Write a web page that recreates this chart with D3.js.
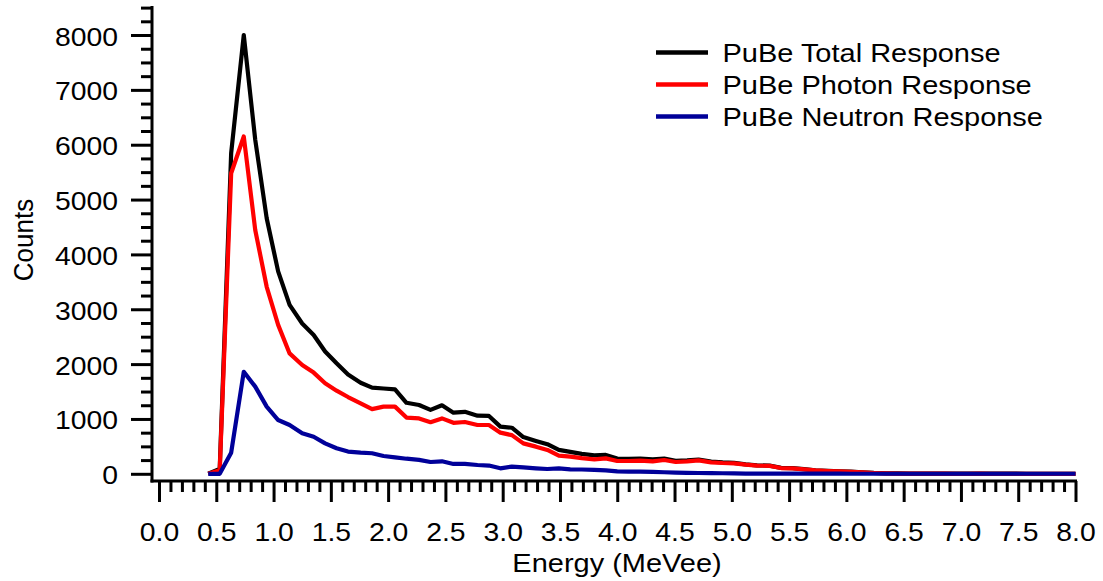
<!DOCTYPE html>
<html>
<head>
<meta charset="utf-8">
<script src="https://cdn.jsdelivr.net/npm/d3@7"></script>
<style>
  html, body { margin: 0; padding: 0; background: #ffffff; }
  svg { display: block; font-family: "Liberation Sans", Arial, Helvetica, sans-serif; }
</style>
</head>
<body>
<script>
// Bin centres of the pulse-height spectrum (MeVee)
const energy = [0.43,0.53,0.63,0.74,0.84,0.94,1.04,1.14,1.25,1.35,1.45,1.55,1.65,1.76,1.86,1.96,
  2.06,2.16,2.27,2.37,2.47,2.57,2.67,2.78,2.88,2.98,3.08,3.18,3.29,3.39,3.49,3.59,3.69,3.80,3.90,
  4.00,4.10,4.20,4.31,4.41,4.51,4.61,4.71,4.82,4.92,5.02,5.12,5.22,5.33,5.43,5.53,5.63,5.73,5.84,
  5.94,6.04,6.14,6.24,6.35,6.45,6.55,6.65,6.75,6.86,6.96,7.06,7.16,7.26,7.37,7.47,7.57,7.67,7.77,
  7.88,7.98,8.08];

// Counts per bin
const totalCounts = [0,90,5850,8000,6090,4660,3690,3080,2740,2530,2230,2015,1810,1660,1570,1555,
  1540,1295,1255,1165,1250,1115,1130,1060,1055,860,840,670,600,540,435,400,363,335,345,
  278,273,279,262,279,237,245,260,221,207,199,171,153,150,109,102,84,65,53,
  45,38,27,16,9,6,4,4,3,3,2,2,3,2,2,2,1,1,1,
  1,1,1];
const photonCounts = [0,65,5480,6150,4445,3410,2715,2195,1985,1845,1650,1515,1400,1285,1180,1225,
  1225,1025,1010,940,1010,930,945,890,890,750,705,555,495,435,330,312,285,264,282,
  233,233,239,227,251,215,227,245,209,197,191,166,148,145,105,99,81,63,51,
  43,36,25,15,8,5,3,3,2,2,1,1,2,1,1,1,0,0,0,
  0,0,0];
const neutronCounts = [0,0,385,1860,1590,1225,980,890,740,675,555,465,405,385,375,325,
  300,275,255,215,228,180,180,160,150,100,130,118,100,88,100,82,78,70,62,
  45,40,40,35,28,22,18,15,12,10,8,5,5,5,4,3,3,2,2,
  2,1,1,1,1,1,1,1,1,1,1,1,1,1,1,1,1,1,1,
  1,1,1];

const seriesNames = ["PuBe Total Response", "PuBe Photon Response", "PuBe Neutron Response"];
const seriesColors = ["#000000", "#ff0000", "#000099"];

// Axis ticks
const xTickValues = [0,0.5,1,1.5,2,2.5,3,3.5,4,4.5,5,5.5,6,6.5,7,7.5,8];
const yTickValues = [0,1000,2000,3000,4000,5000,6000,7000,8000];
const xTitle = "Energy (MeVee)";
const yTitle = "Counts";

const W = 1103, H = 581;
const tickTextScale = "scale(1.09,1)";
const textScale = "scale(1.115,1)";
const fontSize = 26;

const svg = d3.select("body").append("svg").attr("width", W).attr("height", H);

const x = d3.scaleLinear().domain([0, 8]).range([159, 1075.5]);
const y = d3.scaleLinear().domain([0, 8500]).range([473.8, 7.6]);

const axisX = 481;   // x axis sits slightly below zero
const axisY = 152;   // y axis sits slightly left of zero

// ---- data lines ----
svg.append("defs").append("clipPath").attr("id", "plotClip")
  .append("rect").attr("x", axisY).attr("y", 0)
  .attr("width", x(8) - axisY).attr("height", axisX);

const line = d3.line().x(d => x(d[0])).y(d => y(d[1]));
const seriesValues = [totalCounts, photonCounts, neutronCounts];
const plot = svg.append("g").attr("clip-path", "url(#plotClip)");
seriesValues.forEach((vals, i) => {
  plot.append("path")
    .datum(energy.map((e, j) => [e, vals[j]]))
    .attr("d", line)
    .attr("fill", "none")
    .attr("stroke", seriesColors[i])
    .attr("stroke-width", 4.2)
    .attr("stroke-linejoin", "round");
});

// ---- axes ----
const xMinor = d3.range(0, 81).map(i => i / 10).filter(v => Math.abs(v * 2 - Math.round(v * 2)) > 1e-6);
const yMinor = d3.range(0, 35).map(i => i * 250).filter(v => v % 1000 !== 0);

function styleAxis(g) {
  g.select(".domain").remove();
  g.selectAll(".tick line").attr("stroke", "#000").attr("stroke-width", 3);
  g.attr("font-family", null).attr("font-size", fontSize);
}

const gxMinor = svg.append("g").attr("transform", `translate(0,${axisX})`)
  .call(d3.axisBottom(x).tickValues(xMinor).tickSize(11).tickFormat(""));
styleAxis(gxMinor);

const gx = svg.append("g").attr("transform", `translate(0,${axisX})`)
  .call(d3.axisBottom(x).tickValues(xTickValues).tickSize(21).tickFormat(d3.format(".1f")));
styleAxis(gx);
gx.selectAll(".tick text")
  .attr("y", null).attr("dy", null)
  .attr("fill", "#000")
  .attr("transform", `translate(0,60) ${tickTextScale}`);

const gyMinor = svg.append("g").attr("transform", `translate(${axisY},0)`)
  .call(d3.axisLeft(y).tickValues(yMinor).tickSize(11).tickFormat(""));
styleAxis(gyMinor);

const gy = svg.append("g").attr("transform", `translate(${axisY},0)`)
  .call(d3.axisLeft(y).tickValues(yTickValues).tickSize(21).tickFormat(d3.format("d")));
styleAxis(gy);
gy.selectAll(".tick text")
  .attr("x", null).attr("dy", null)
  .attr("fill", "#000")
  .attr("transform", `translate(-34,10) ${tickTextScale}`);

// axis lines
svg.append("line")
  .attr("x1", axisY).attr("x2", axisY)
  .attr("y1", y(8500)).attr("y2", axisX)
  .attr("stroke", "#000").attr("stroke-width", 3).attr("stroke-linecap", "square");
svg.append("line")
  .attr("x1", axisY).attr("x2", x(8))
  .attr("y1", axisX).attr("y2", axisX)
  .attr("stroke", "#000").attr("stroke-width", 3).attr("stroke-linecap", "square");

// axis titles
svg.append("text")
  .attr("transform", `translate(617,572) ${textScale}`)
  .attr("text-anchor", "middle")
  .attr("font-size", fontSize)
  .attr("fill", "#000")
  .text(xTitle);

svg.append("text")
  .attr("transform", `translate(32.6,240) ${tickTextScale} rotate(-90)`)
  .attr("text-anchor", "middle")
  .attr("font-size", fontSize)
  .attr("fill", "#000")
  .text(yTitle);

// ---- legend ----
const legend = svg.append("g");
seriesNames.forEach((name, i) => {
  const ly = 52.5 + i * 32;
  legend.append("line")
    .attr("x1", 656).attr("x2", 708)
    .attr("y1", ly).attr("y2", ly)
    .attr("stroke", seriesColors[i]).attr("stroke-width", 4.5);
  legend.append("text")
    .attr("transform", `translate(722.5,${ly + 9.5}) ${textScale}`)
    .attr("font-size", fontSize)
    .attr("fill", "#000")
    .text(name);
});
</script>
</body>
</html>
